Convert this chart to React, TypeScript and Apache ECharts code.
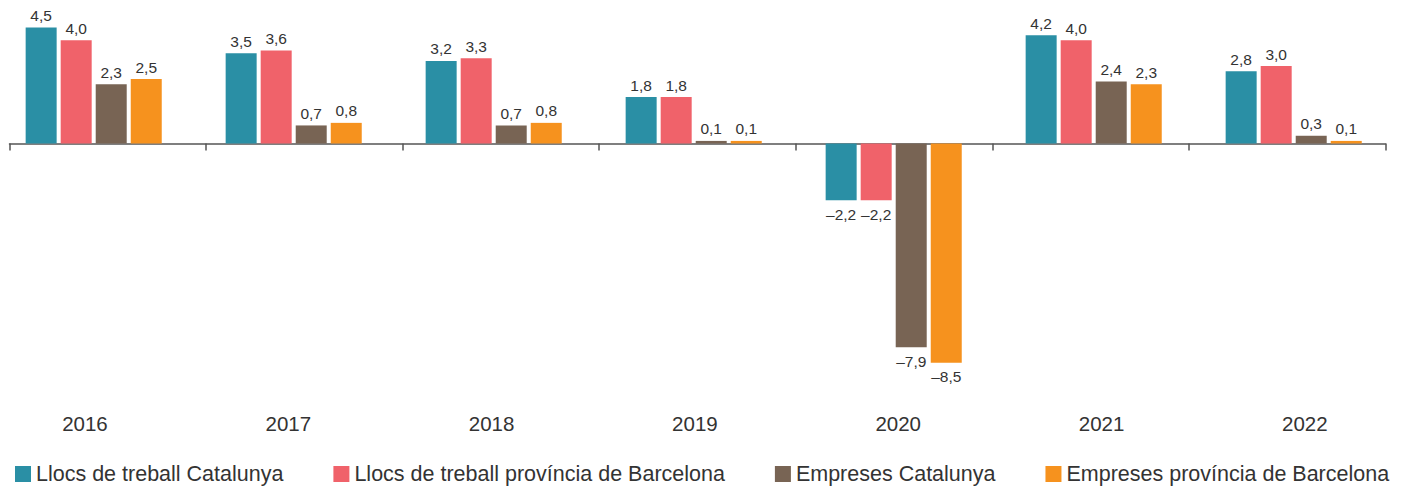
import React, { useEffect, useRef } from "react";
import * as echarts from "echarts";

const years = ["2016", "2017", "2018", "2019", "2020", "2021", "2022"];
const seriesNames = [
  "Llocs de treball Catalunya",
  "Llocs de treball província de Barcelona",
  "Empreses Catalunya",
  "Empreses província de Barcelona",
];
const llocsCatalunya = [4.5, 3.5, 3.2, 1.8, -2.2, 4.2, 2.8];
const llocsBarcelona = [4.0, 3.6, 3.3, 1.8, -2.2, 4.0, 3.0];
const empresesCatalunya = [2.3, 0.7, 0.7, 0.1, -7.9, 2.4, 0.3];
const empresesBarcelona = [2.5, 0.8, 0.8, 0.1, -8.5, 2.3, 0.1];
const colors = ["#2A8FA5", "#F0626A", "#786454", "#F6921E"];

const FONT = "'Liberation Sans', Arial, Helvetica, sans-serif";
const TEXT = "#333333";

export default function App() {
  const ref = useRef<HTMLDivElement>(null);
  useEffect(() => {
    if (!ref.current) return;
    const chart = echarts.init(ref.current, undefined, { renderer: "svg" });
    const allSeries = [llocsCatalunya, llocsBarcelona, empresesCatalunya, empresesBarcelona];
    const fmt = (p: any) => {
      const v = Number(p.value);
      const s = Math.abs(v).toFixed(1).replace(".", ",");
      return v < 0 ? "–" + s : s;
    };
    chart.setOption({
      animation: false,
      textStyle: { fontFamily: FONT },
      legend: {
        data: seriesNames,
        left: 10,
        top: 458,
        icon: "rect",
        itemWidth: 16,
        itemHeight: 16,
        itemGap: 50,
        textStyle: { fontSize: 21.5, color: TEXT, fontFamily: FONT },
      },
      grid: [
        { left: 9.5, right: 15.5, top: 100, bottom: 487 - 143.5, outerBoundsMode: "none" },
        { left: -6.3, right: 7.3, top: 14.5, bottom: 111.3, outerBoundsMode: "none" },
        { left: -16.7, right: -5.5, top: 380, bottom: 487 - 405, outerBoundsMode: "none" },
      ],
      xAxis: [
        {
          gridIndex: 0,
          type: "category",
          data: years,
          boundaryGap: true,
          axisLine: { show: true, lineStyle: { color: "#555555", width: 1.5 } },
          axisTick: { show: true, length: 7, lineStyle: { color: "#555555", width: 1.5 } },
          axisLabel: { show: false },
        },
        {
          gridIndex: 1,
          type: "category",
          data: years,
          show: false,
        },
        {
          gridIndex: 2,
          type: "category",
          data: years,
          axisLine: { show: false },
          axisTick: { show: false },
          axisLabel: { show: true, interval: 0, margin: 8, fontSize: 20.5, color: TEXT, fontFamily: FONT },
        },
      ],
      yAxis: [
        { gridIndex: 0, type: "value", show: false, min: 0, max: 1 },
        { gridIndex: 1, type: "value", show: false, min: -9, max: 5 },
        { gridIndex: 2, type: "value", show: false, min: 0, max: 1 },
      ],
      series: allSeries.map((vals, i) => ({
        name: seriesNames[i],
        type: "bar",
        xAxisIndex: 1,
        yAxisIndex: 1,
        barWidth: 31,
        barGap: "13%",
        itemStyle: { color: colors[i] },
        label: {
          show: true,
          formatter: fmt,
          fontSize: 15.5,
          color: TEXT,
          fontFamily: FONT,
          distance: 4,
        },
        data: vals.map((v) => ({
          value: v,
          label: { position: v < 0 ? "bottom" : "top", distance: v < 0 ? 6 : 4 },
        })),
      })),
    });
    return () => chart.dispose();
  }, []);
  return (
    <div
      ref={ref}
      style={{ position: "absolute", left: 0, top: 0, width: 1401, height: 487, background: "#ffffff" }}
    />
  );
}
